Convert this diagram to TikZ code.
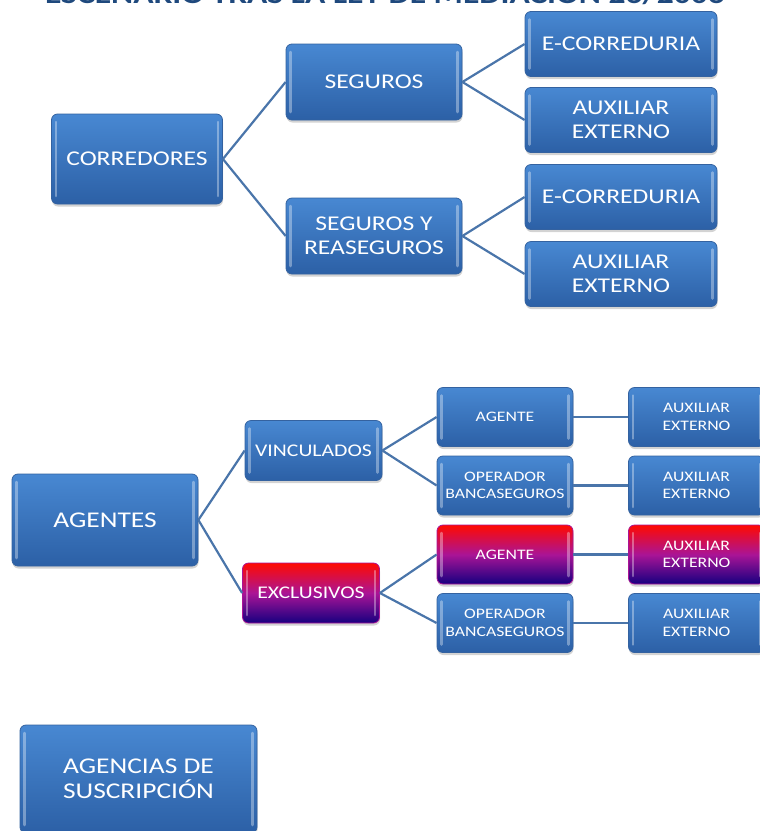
\documentclass[tikz,border=0pt]{standalone}
\usepackage{fontspec}
\setmainfont{Carlito}[FakeStretch=1.22]
\usetikzlibrary{shadows}
\definecolor{bluetop}{RGB}{72,136,210}
\definecolor{bluebot}{RGB}{44,96,166}
\definecolor{boxedge}{RGB}{52,98,160}
\definecolor{linkcol}{RGB}{74,117,170}
\definecolor{titleblue}{RGB}{31,73,125}
\definecolor{redtop}{RGB}{255,10,0}
\definecolor{redmid}{RGB}{170,20,150}
\definecolor{redbot}{RGB}{22,0,128}
\tikzset{
  box/.style={rounded corners=6pt, draw=boxedge, line width=0.8pt,
    top color=bluetop, bottom color=bluebot, text=white, align=center,
    inner sep=0pt,
    drop shadow={shadow xshift=0.5pt, shadow yshift=-2.5pt, opacity=0.35},
    path picture={
      \draw[line width=2.5pt, white, opacity=0.35, line cap=round]
        ([xshift=4.5pt,yshift=-8pt]path picture bounding box.north west) --
        ([xshift=4.5pt,yshift=8pt]path picture bounding box.south west);
      \draw[line width=2.5pt, white, opacity=0.35, line cap=round]
        ([xshift=-4.5pt,yshift=-8pt]path picture bounding box.north east) --
        ([xshift=-4.5pt,yshift=8pt]path picture bounding box.south east);
    }},
  redbox/.style={box, draw=redmid, top color=redtop, bottom color=redbot, middle color=redmid},
  big/.style={minimum width=171pt, minimum height=90pt, font=\fontsize{21}{24}\selectfont},
  mid/.style={minimum width=176pt, minimum height=76pt, font=\fontsize{21}{24}\selectfont},
  leaf/.style={minimum width=192pt, minimum height=65pt, font=\fontsize{21}{24}\selectfont},
  vbox/.style={minimum width=137pt, minimum height=60pt, font=\fontsize{17.8}{21}\selectfont},
  sbox/.style={minimum width=136pt, minimum height=59pt, font=\fontsize{14.5}{17.5}\selectfont},
  link/.style={draw=linkcol, line width=2.2pt},
}
\begin{document}
\begin{tikzpicture}[x=1pt, y=-1pt]
\useasboundingbox (0,0) rectangle (760,831);
\node[anchor=base, font=\bfseries\fontsize{27.5}{30}\selectfont, text=titleblue] (title) at (385,3.5) {ESCENARIO TRAS LA LEY DE MEDIACION 26/2006};

% Corredores
\node[box, big] (corr) at (137,159) {CORREDORES};
\node[box, mid] (seg) at (374,82) {SEGUROS};
\node[box, mid] (segre) at (374,236) {SEGUROS Y\\REASEGUROS};
\node[box, leaf] (ec1) at (621,44) {E-CORREDURIA};
\node[box, leaf] (ax1) at (621,120) {AUXILIAR\\EXTERNO};
\node[box, leaf] (ec2) at (621,197) {E-CORREDURIA};
\node[box, leaf] (ax2) at (621,274) {AUXILIAR\\EXTERNO};
\draw[link] (corr.east) -- (seg.west);
\draw[link] (corr.east) -- (segre.west);
\draw[link] (seg.east) -- (ec1.west);
\draw[link] (seg.east) -- (ax1.west);
\draw[link] (segre.east) -- (ec2.west);
\draw[link] (segre.east) -- (ax2.west);

% Agentes
\node[box, minimum width=186pt, minimum height=92pt, font=\fontsize{22.5}{27}\selectfont] (ag) at (105,520) {AGENTES};
\node[box, vbox] (vin) at (313.5,450.5) {VINCULADOS};
\node[redbox, vbox] (exc) at (311,593) {EXCLUSIVOS};
\node[box, sbox] (a1) at (505,417) {AGENTE};
\node[box, sbox] (o1) at (505,485.5) {OPERADOR\\BANCASEGUROS};
\node[redbox, sbox] (a2) at (505,554.5) {AGENTE};
\node[box, sbox] (o2) at (505,623) {OPERADOR\\BANCASEGUROS};
\node[box, sbox] (x1) at (696.5,417) {AUXILIAR\\EXTERNO};
\node[box, sbox] (x2) at (696.5,485.5) {AUXILIAR\\EXTERNO};
\node[redbox, sbox] (x3) at (696.5,554.5) {AUXILIAR\\EXTERNO};
\node[box, sbox] (x4) at (696.5,623) {AUXILIAR\\EXTERNO};
\draw[link] (ag.east) -- (vin.west);
\draw[link] (ag.east) -- (exc.west);
\draw[link] (vin.east) -- (a1.west);
\draw[link] (vin.east) -- (o1.west);
\draw[link] (exc.east) -- (a2.west);
\draw[link] (exc.east) -- (o2.west);
\draw[link] (a1.east) -- (x1.west);
\draw[link] (o1.east) -- (x2.west);
\draw[link] (a2.east) -- (x3.west);
\draw[link] (o2.east) -- (x4.west);

% Agencias
\node[box, minimum width=237pt, minimum height=108pt, font=\fontsize{22.5}{25}\selectfont] (agsus) at (138.5,779) {AGENCIAS DE\\SUSCRIPCIÓN};
\end{tikzpicture}
\end{document}
